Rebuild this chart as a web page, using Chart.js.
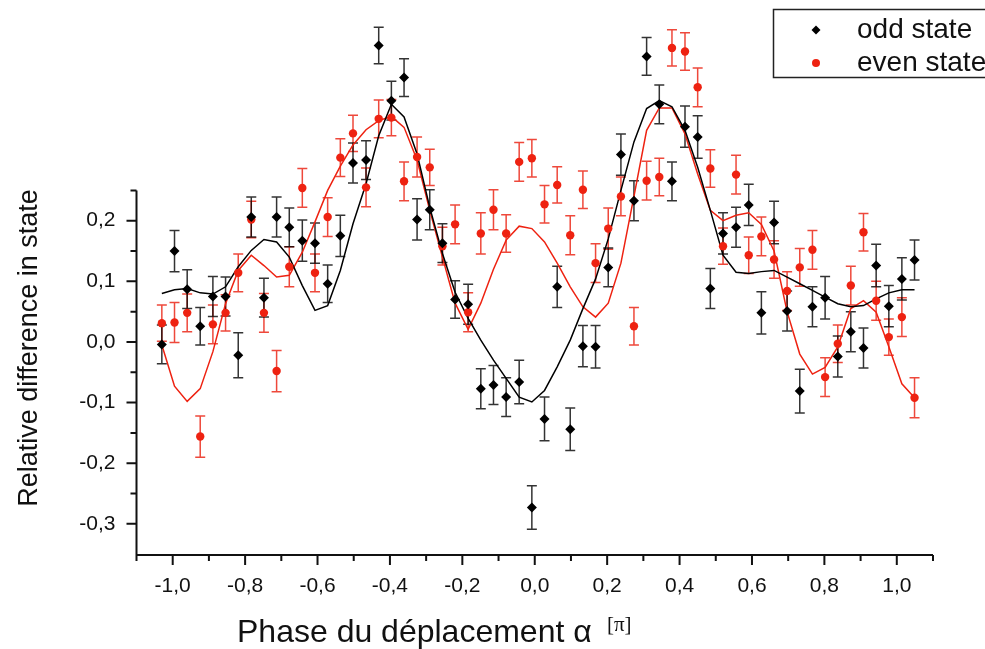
<!DOCTYPE html>
<html>
<head>
<meta charset="utf-8">
<title>Phase du déplacement</title>
<script src="https://cdn.jsdelivr.net/npm/chart.js@4.4.1/dist/chart.umd.min.js"></script>
<style>
  body { margin: 0; background: #fff; }
  canvas { display: block; }
</style>
</head>
<body>
<canvas id="phaseChart" width="985" height="649"></canvas>
<script>
// phase of the displacement, in units of pi
const phases = [
  -1.030, -0.995, -0.960, -0.924, -0.889, -0.854, -0.819, -0.783, -0.748, -0.713,
  -0.678, -0.642, -0.607, -0.572, -0.537, -0.502, -0.466, -0.431, -0.396, -0.361,
  -0.325, -0.290, -0.255, -0.220, -0.184, -0.149, -0.114, -0.079, -0.043, -0.008,
   0.027,  0.062,  0.098,  0.133,  0.168,  0.203,  0.238,  0.274,  0.309,  0.344,
   0.379,  0.415,  0.450,  0.485,  0.520,  0.556,  0.591,  0.626,  0.661,  0.697,
   0.732,  0.767,  0.802,  0.837,  0.873,  0.908,  0.943,  0.978,  1.014,  1.049
];

const oddState = [
  -0.004, 0.150, 0.087, 0.026, 0.075, 0.075, -0.022, 0.206, 0.073, 0.206,
   0.189, 0.167, 0.163, 0.096, 0.175, 0.295, 0.300, 0.489, 0.398, 0.436,
   0.202, 0.218, 0.163, 0.070, 0.062, -0.077, -0.071, -0.091, -0.066, -0.273,
  -0.127, 0.091, -0.144, -0.007, -0.008, 0.123, 0.309, 0.233, 0.471, 0.392,
   0.265, 0.355, 0.338, 0.088, 0.179, 0.189, 0.226, 0.048, 0.197, 0.051,
  -0.081, 0.058, 0.073, -0.024, 0.017, -0.010, 0.126, 0.059, 0.104, 0.135
];
const oddErr = [
  0.032, 0.034, 0.032, 0.031, 0.033, 0.032, 0.037, 0.033, 0.032, 0.033,
  0.032, 0.034, 0.033, 0.031, 0.034, 0.033, 0.032, 0.030, 0.032, 0.031,
  0.034, 0.033, 0.032, 0.031, 0.033, 0.033, 0.032, 0.032, 0.036, 0.036,
  0.036, 0.034, 0.035, 0.034, 0.035, 0.032, 0.034, 0.033, 0.031, 0.032,
  0.032, 0.034, 0.035, 0.033, 0.034, 0.033, 0.034, 0.035, 0.035, 0.033,
  0.036, 0.033, 0.035, 0.034, 0.033, 0.033, 0.035, 0.034, 0.035, 0.033
];
const evenState = [
   0.031, 0.032, 0.048, -0.156, 0.029, 0.048, 0.114, 0.202, 0.048, -0.048,
   0.124, 0.254, 0.114, 0.206, 0.304, 0.344, 0.255, 0.368, 0.370, 0.265,
   0.305, 0.288, 0.158, 0.194, 0.049, 0.179, 0.218, 0.179, 0.297, 0.303,
   0.227, 0.259, 0.176, 0.251, 0.130, 0.187, 0.240, 0.026, 0.266, 0.272,
   0.485, 0.479, 0.420, 0.286, 0.158, 0.276, 0.143, 0.174, 0.136, 0.084,
   0.123, 0.152, -0.058, -0.003, 0.093, 0.181, 0.068, 0.008, 0.041, -0.092
];
const evenErr = [
  0.030, 0.033, 0.031, 0.034, 0.032, 0.030, 0.031, 0.030, 0.032, 0.034,
  0.033, 0.032, 0.031, 0.032, 0.031, 0.030, 0.032, 0.031, 0.030, 0.032,
  0.033, 0.030, 0.031, 0.032, 0.032, 0.034, 0.033, 0.031, 0.032, 0.031,
  0.031, 0.030, 0.032, 0.031, 0.032, 0.034, 0.032, 0.031, 0.032, 0.031,
  0.030, 0.031, 0.032, 0.031, 0.030, 0.032, 0.030, 0.032, 0.031, 0.032,
  0.031, 0.032, 0.032, 0.031, 0.032, 0.031, 0.032, 0.030, 0.032, 0.033
];

// fitted curves, sampled at the same phases
const oddFit = [
   0.080, 0.086, 0.088, 0.081, 0.079, 0.091, 0.124, 0.151, 0.169, 0.165,
   0.140, 0.093, 0.052, 0.060, 0.118, 0.195, 0.261, 0.340, 0.392, 0.371,
   0.310, 0.222, 0.146, 0.082, 0.039, 0.003, -0.030, -0.060, -0.091, -0.099,
  -0.080, -0.041, 0.003, 0.055, 0.104, 0.170, 0.250, 0.330, 0.385, 0.398,
   0.388, 0.349, 0.288, 0.217, 0.143, 0.115, 0.113, 0.116, 0.118, 0.107,
   0.096, 0.085, 0.074, 0.063, 0.058, 0.060, 0.071, 0.081, 0.086, 0.086
];
const evenFit = [
  -0.005, -0.073, -0.098, -0.077, -0.016, 0.063, 0.118, 0.143, 0.126, 0.107,
   0.110, 0.148, 0.198, 0.250, 0.290, 0.325, 0.350, 0.365, 0.372, 0.354,
   0.300, 0.217, 0.140, 0.064, 0.021, 0.064, 0.120, 0.168, 0.191, 0.187,
   0.165, 0.130, 0.091, 0.058, 0.041, 0.064, 0.130, 0.240, 0.349, 0.386,
   0.386, 0.343, 0.277, 0.217, 0.200, 0.209, 0.213, 0.194, 0.150, 0.050,
  -0.020, -0.053, -0.042, -0.008, 0.055, 0.068, 0.049, -0.008, -0.069, -0.092
];

const xRange = [-1.1, 1.1];
const yRange = [-0.3514, 0.5086];
const yAxisTop = 0.25;
const xLabelTicks = [-1.0, -0.8, -0.6, -0.4, -0.2, 0.0, 0.2, 0.4, 0.6, 0.8, 1.0];
const yLabelTicks = [-0.3, -0.2, -0.1, 0.0, 0.1, 0.2];
const seriesNames = ["odd state", "even state"];

const black = "#000000";
const red = "#ee2211";
const fontName = '"Liberation Sans", Arial, sans-serif';

function points(ys) {
  return phases.map((p, i) => ({ x: p, y: ys[i] }));
}

function isLabelled(list, v) {
  return list.some(t => Math.abs(t - v) < 1e-6);
}

function commaLabel(v) {
  return (Math.round(v * 10) / 10).toFixed(1).replace(".", ",");
}

// vertical error bars with small caps
const errorBars = {
  id: "errorBars",
  beforeDatasetsDraw(chart) {
    const { ctx, scales: { x, y } } = chart;
    const sets = [
      [evenState, evenErr, "rgba(235,40,25,0.85)"],
      [oddState, oddErr, "rgba(0,0,0,0.8)"]
    ];
    ctx.save();
    ctx.lineWidth = 1.5;
    sets.forEach(([vals, errs, color]) => {
      ctx.strokeStyle = color;
      vals.forEach((v, i) => {
        const px = x.getPixelForValue(phases[i]);
        const top = y.getPixelForValue(v + errs[i]);
        const bot = y.getPixelForValue(v - errs[i]);
        ctx.beginPath();
        ctx.moveTo(px, top); ctx.lineTo(px, bot);
        ctx.moveTo(px - 5, top); ctx.lineTo(px + 5, top);
        ctx.moveTo(px - 5, bot); ctx.lineTo(px + 5, bot);
        ctx.stroke();
      });
    });
    ctx.restore();
  }
};

// open axes: left and bottom only, ticks pointing outwards
const axisFrame = {
  id: "axisFrame",
  afterDraw(chart) {
    const { ctx, chartArea, scales: { x, y } } = chart;
    const left = chartArea.left, bottom = chartArea.bottom;
    const yTop = y.getPixelForValue(yAxisTop);
    ctx.save();
    ctx.strokeStyle = "#111";
    ctx.lineWidth = 2;
    ctx.beginPath();
    ctx.moveTo(left, bottom); ctx.lineTo(chartArea.right, bottom);
    ctx.moveTo(left, bottom + 1); ctx.lineTo(left, yTop);
    x.ticks.forEach((t, i) => {
      const px = x.getPixelForTick(i);
      const len = isLabelled(xLabelTicks, t.value) ? 10 : 6;
      ctx.moveTo(px, bottom); ctx.lineTo(px, bottom + len);
    });
    y.ticks.forEach((t, i) => {
      if (t.value > yAxisTop + 1e-6 || t.value < -0.35 - 1e-6) return;
      const py = y.getPixelForTick(i);
      const len = isLabelled(yLabelTicks, t.value) ? 10 : 6;
      ctx.moveTo(left, py); ctx.lineTo(left - len, py);
    });
    ctx.stroke();

    // axis titles
    ctx.fillStyle = "#111";
    ctx.save();
    ctx.translate(37, 348);
    ctx.rotate(-Math.PI / 2);
    ctx.font = "27px " + fontName;
    ctx.textAlign = "center";
    ctx.textBaseline = "alphabetic";
    ctx.fillText("Relative difference in state", 0, 0);
    ctx.restore();

    ctx.textAlign = "left";
    ctx.textBaseline = "alphabetic";
    ctx.font = "32px " + fontName;
    const xTitle = "Phase du déplacement ";
    ctx.fillText(xTitle, 237, 642);
    ctx.fillText("α", 237 + ctx.measureText(xTitle).width, 642);
    ctx.font = '21px "Liberation Serif", serif';
    ctx.fillText("[π]", 607, 631);

    // legend box
    ctx.lineWidth = 1.5;
    ctx.strokeStyle = "#222";
    ctx.strokeRect(773.5, 9.5, 240, 68);
    ctx.fillStyle = black;
    ctx.beginPath();
    ctx.moveTo(816, 25.5); ctx.lineTo(820.5, 30); ctx.lineTo(816, 34.5); ctx.lineTo(811.5, 30);
    ctx.closePath();
    ctx.fill();
    ctx.fillStyle = red;
    ctx.beginPath();
    ctx.arc(816, 63, 4, 0, Math.PI * 2);
    ctx.fill();
    ctx.fillStyle = "#111";
    ctx.font = "28px " + fontName;
    ctx.fillText(seriesNames[0], 857, 38);
    ctx.fillText(seriesNames[1], 857, 71);
    ctx.restore();
  }
};

const ctx = document.getElementById("phaseChart").getContext("2d");

const chart = new Chart(ctx, {
  type: "scatter",
  data: {
    datasets: [
      {
        label: seriesNames[0],
        data: points(oddState),
        pointStyle: "rectRot",
        pointRadius: 5,
        backgroundColor: black,
        borderColor: black,
        borderWidth: 0,
        clip: false
      },
      {
        label: seriesNames[1],
        data: points(evenState),
        pointStyle: "circle",
        pointRadius: 4.2,
        backgroundColor: red,
        borderColor: red,
        borderWidth: 0,
        clip: false
      },
      {
        label: "odd fit",
        data: points(oddFit),
        showLine: true,
        pointRadius: 0,
        borderColor: black,
        borderWidth: 1.5,
        tension: 0
      },
      {
        label: "even fit",
        data: points(evenFit),
        showLine: true,
        pointRadius: 0,
        borderColor: red,
        borderWidth: 1.5,
        tension: 0
      }
    ]
  },
  options: {
    responsive: false,
    animation: false,
    layout: { padding: { top: 0, right: 52, left: 0, bottom: 0 } },
    scales: {
      x: {
        type: "linear",
        min: xRange[0],
        max: xRange[1],
        afterFit(scale) { scale.height = 94; },
        grid: { display: false, drawTicks: false },
        border: { display: false },
        ticks: {
          stepSize: 0.1,
          autoSkip: false,
          maxRotation: 0,
          padding: 19,
          color: "#111",
          font: { family: fontName, size: 21 },
          callback: (v) => isLabelled(xLabelTicks, v) ? commaLabel(v) : ""
        }
      },
      y: {
        type: "linear",
        min: yRange[0],
        max: yRange[1],
        afterFit(scale) { scale.width = 136.5; },
        grid: { display: false, drawTicks: false },
        border: { display: false },
        ticks: {
          stepSize: 0.05,
          autoSkip: false,
          padding: 21,
          color: "#111",
          font: { family: fontName, size: 21 },
          callback: (v) => isLabelled(yLabelTicks, v) ? commaLabel(v) : ""
        }
      }
    },
    plugins: {
      legend: { display: false },
      tooltip: { enabled: false }
    }
  },
  plugins: [errorBars, axisFrame]
});
</script>
</body>
</html>
